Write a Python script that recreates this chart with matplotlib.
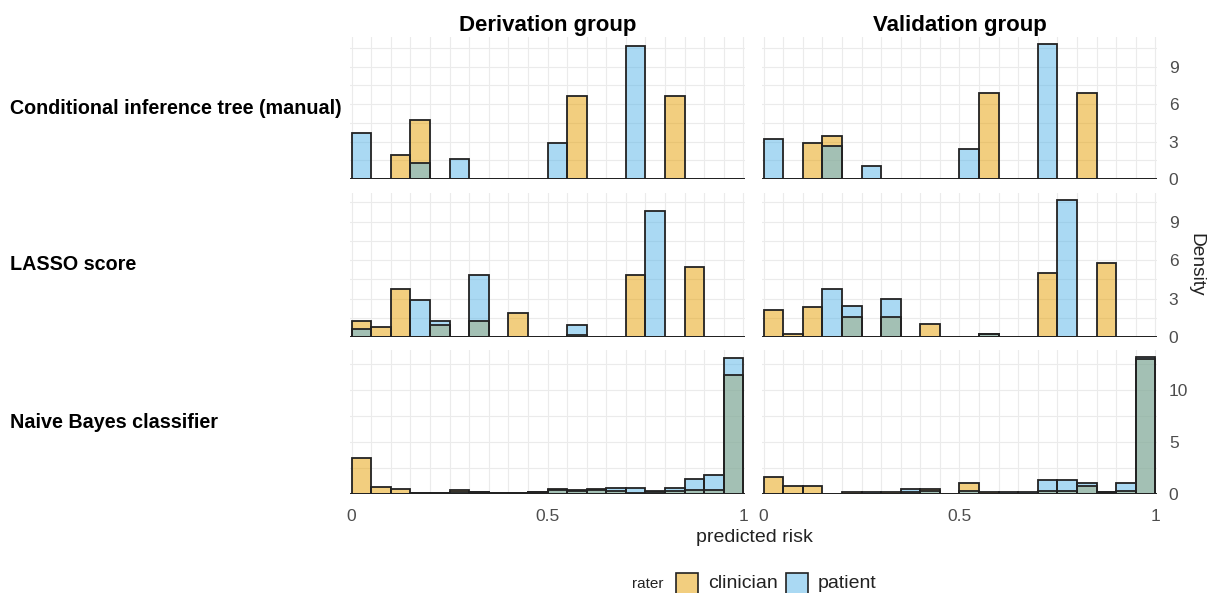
import numpy as np
import matplotlib
matplotlib.use("Agg")
import matplotlib.pyplot as plt
from matplotlib.patches import Rectangle

plt.rcParams['font.family'] = ['Liberation Sans', 'DejaVu Sans']

# histogram densities, 20 bins of width 0.05 on [0, 1]
bin_edges = np.linspace(0, 1, 21)[:-1]
bin_width = 0.05

columns = ["Derivation group", "Validation group"]
rows = ["Conditional inference tree (manual)", "LASSO score", "Naive Bayes classifier"]
raters = ["clinician", "patient"]

deriv_tree_clin = [0, 0, 1.95, 4.73, 0, 0, 0, 0, 0, 0, 0, 6.68, 0, 0, 0, 0, 6.68, 0, 0, 0]
deriv_tree_pat = [3.66, 0, 0, 1.25, 0, 1.6, 0, 0, 0, 0, 2.86, 0, 0, 0, 10.66, 0, 0, 0, 0, 0]
valid_tree_clin = [0, 0, 2.86, 3.42, 0, 0, 0, 0, 0, 0, 0, 6.89, 0, 0, 0, 0, 6.89, 0, 0, 0]
valid_tree_pat = [3.18, 0, 0, 2.62, 0, 1.04, 0, 0, 0, 0, 2.38, 0, 0, 0, 10.82, 0, 0, 0, 0, 0]

deriv_lasso_clin = [1.26, 0.75, 3.74, 0, 0.93, 0, 1.26, 0, 1.9, 0, 0, 0.12, 0, 0, 4.81, 0, 0, 5.5, 0, 0]
deriv_lasso_pat = [0.59, 0, 0, 2.91, 1.26, 0, 4.81, 0, 0, 0, 0, 0.91, 0, 0, 0, 9.8, 0, 0, 0, 0]
valid_lasso_clin = [2.08, 0.24, 2.34, 0, 1.55, 0, 1.55, 0, 1.03, 0, 0, 0.24, 0, 0, 5.0, 0, 0, 5.79, 0, 0]
valid_lasso_pat = [0, 0, 0, 3.74, 2.39, 0, 2.95, 0, 0, 0, 0, 0.24, 0, 0, 0, 10.7, 0, 0, 0, 0]

deriv_nb_clin = [3.47, 0.71, 0.45, 0.08, 0.06, 0.36, 0.2, 0.06, 0.06, 0.15,
                 0.45, 0.3, 0.45, 0.3, 0.1, 0.2, 0.3, 0.35, 0.35, 11.5]
deriv_nb_pat = [0, 0, 0, 0.05, 0.05, 0.2, 0.15, 0.06, 0.06, 0.23,
                0.35, 0.36, 0.4, 0.58, 0.58, 0.26, 0.6, 1.4, 1.85, 13.1]
valid_nb_clin = [1.59, 0.75, 0.78, 0, 0.23, 0, 0.23, 0.2, 0.52, 0,
                 1.04, 0.23, 0, 0, 0.25, 0.25, 0.75, 0.23, 0.25, 13.0]
valid_nb_pat = [0, 0, 0, 0, 0, 0.23, 0, 0.49, 0.3, 0,
                0.3, 0, 0.23, 0.23, 1.3, 1.3, 1.07, 0.23, 1.04, 13.2]

panel_data = [
    [(deriv_tree_clin, deriv_tree_pat), (valid_tree_clin, valid_tree_pat)],
    [(deriv_lasso_clin, deriv_lasso_pat), (valid_lasso_clin, valid_lasso_pat)],
    [(deriv_nb_clin, deriv_nb_pat), (valid_nb_clin, valid_nb_pat)],
]
row_ticks = [[0, 3, 6, 9], [0, 3, 6, 9], [0, 5, 10]]

colors = {"clinician": "#E69F00", "patient": "#56B4E9"}
alpha = 0.5
grid_col = "#EBEBEB"
text_col = "#4D4D4D"

W, H = 1208, 593
fig = plt.figure(figsize=(W / 100, H / 100), dpi=100)

col_x = [350, 762]
col_w = 395
row_y = [(37, 179), (193, 337), (350, 494)]

for r in range(3):
    ymax = max(max(max(c), max(p)) for c, p in panel_data[r]) * 1.05
    ticks = row_ticks[r]
    step = ticks[1] - ticks[0]
    for c in range(2):
        top, bot = row_y[r]
        ax = fig.add_axes([col_x[c] / W, 1 - bot / H, col_w / W, (bot - top) / H])
        ax.set_xlim(-0.004, 1.004)
        ax.set_ylim(0, ymax)
        for s in ax.spines.values():
            s.set_visible(False)
        # grid
        for gx in np.linspace(0, 1, 21):
            ax.axvline(gx, color=grid_col, lw=0.8, zorder=0)
        for gy in np.arange(0, ymax, step / 2):
            ax.axhline(gy, color=grid_col, lw=0.8, zorder=0)
        clin, pat = panel_data[r][c]
        ax.bar(bin_edges, clin, width=bin_width, align="edge", color=colors["clinician"],
               alpha=alpha, edgecolor="none", zorder=2)
        ax.bar(bin_edges, clin, width=bin_width, align="edge", fill=False,
               edgecolor="#222222", lw=1.3, zorder=4)
        ax.bar(bin_edges, pat, width=bin_width, align="edge", color=colors["patient"],
               alpha=alpha, edgecolor="none", zorder=3)
        ax.bar(bin_edges, pat, width=bin_width, align="edge", fill=False,
               edgecolor="#222222", lw=1.3, zorder=4)
        ax.axhline(0, color="#222222", lw=1.4, zorder=5)
        ax.tick_params(length=0, labelsize=12.5, labelcolor=text_col)
        ax.tick_params(axis="x", pad=11)
        ax.tick_params(axis="y", pad=8.5)
        if r == 2:
            ax.set_xticks([0, 0.5, 1])
            ax.set_xticklabels(["0", "0.5", "1"])
        else:
            ax.set_xticks([])
        if c == 1:
            ax.yaxis.tick_right()
            ax.set_yticks(ticks)
        else:
            ax.set_yticks([])

for c in range(2):
    fig.text((col_x[c] + col_w / 2) / W, 1 - 26 / H, columns[c], ha="center", va="center",
             fontsize=16, fontweight="bold")
for r in range(3):
    top, bot = row_y[r]
    fig.text(10 / W, 1 - (top + bot) / 2 / H, rows[r], ha="left", va="center",
             fontsize=14.2, fontweight="bold")

fig.text(754 / W, 1 - 538 / H, "predicted risk", ha="center", va="center",
         fontsize=14, color="#222222")
fig.text(1196 / W, 1 - 265 / H, "Density", ha="center", va="center", rotation=-90,
         fontsize=13.8, color="#222222")

# legend
fig.text(648 / W, 1 - 584 / H, "rater", ha="center", va="center", fontsize=11, color="#222222")
for name, kx, tx in [("clinician", 676, 708), ("patient", 786, 818)]:
    fig.patches.append(Rectangle((kx / W, 1 - 600 / H), 22 / W, 27 / H, transform=fig.transFigure,
                                 facecolor=colors[name], alpha=alpha, edgecolor="none"))
    fig.patches.append(Rectangle((kx / W, 1 - 600 / H), 22 / W, 27 / H, transform=fig.transFigure,
                                 fill=False, edgecolor="#222222", lw=1.2))
    fig.text(tx / W, 1 - 584 / H, name, ha="left", va="center", fontsize=14, color="#222222")

fig.savefig("out.png", dpi=100)
